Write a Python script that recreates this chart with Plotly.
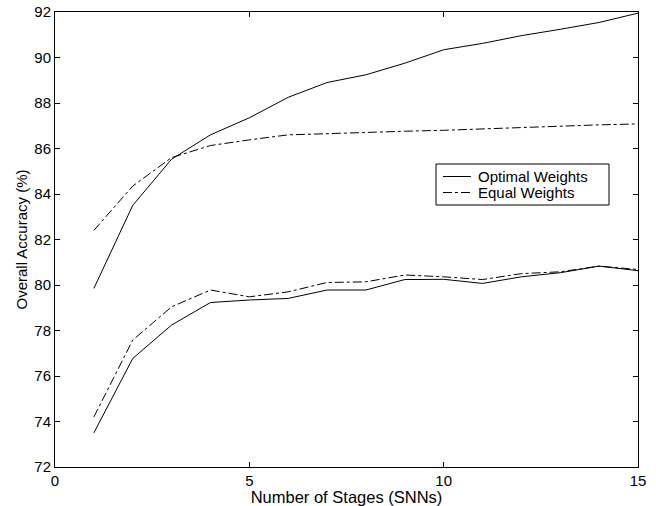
import plotly.graph_objects as go

stages = list(range(1, 16))
optimal_upper = [79.85, 83.5, 85.53, 86.6, 87.35, 88.25, 88.9, 89.24, 89.75, 90.34, 90.62, 90.96, 91.24, 91.54, 91.95]
equal_upper = [82.4, 84.35, 85.6, 86.13, 86.38, 86.6, 86.65, 86.72, 86.76, 86.8, 86.86, 86.94, 87.0, 87.04, 87.08]
optimal_lower = [73.5, 76.77, 78.24, 79.23, 79.34, 79.41, 79.78, 79.78, 80.24, 80.25, 80.07, 80.36, 80.54, 80.83, 80.63]
equal_lower = [74.2, 77.58, 79.04, 79.78, 79.48, 79.7, 80.11, 80.14, 80.44, 80.36, 80.24, 80.5, 80.58, 80.83, 80.68]

x_ticks = [0, 5, 10, 15]
y_ticks = [72, 74, 76, 78, 80, 82, 84, 86, 88, 90, 92]
legend_labels = ["Optimal Weights", "Equal Weights"]

W, H = 656, 506
ML, MR, MT, MB = 55, 18, 12, 39
PW, PH = W - ML - MR, H - MT - MB


def px(xp):
    return (xp - ML) / PW


def py(yp):
    return 1 - (yp - MT) / PH


fig = go.Figure()
fig.add_trace(go.Scatter(x=stages, y=optimal_upper, mode="lines", name=legend_labels[0],
                         line=dict(color="black", width=1)))
fig.add_trace(go.Scatter(x=stages, y=equal_upper, mode="lines", name=legend_labels[1],
                         line=dict(color="black", width=1, dash="dashdot")))
fig.add_trace(go.Scatter(x=stages, y=optimal_lower, mode="lines", name=legend_labels[0],
                         line=dict(color="black", width=1)))
fig.add_trace(go.Scatter(x=stages, y=equal_lower, mode="lines", name=legend_labels[1],
                         line=dict(color="black", width=1, dash="dashdot")))

# manual compact legend (as in the reference)
shapes = [
    dict(type="rect", xref="paper", yref="paper", x0=px(436), x1=px(609), y0=py(205), y1=py(164),
         line=dict(color="black", width=1), fillcolor="white", layer="above"),
    dict(type="line", xref="paper", yref="paper", x0=px(443), x1=px(471), y0=py(176.5), y1=py(176.5),
         line=dict(color="black", width=1)),
    dict(type="line", xref="paper", yref="paper", x0=px(443), x1=px(471), y0=py(192.5), y1=py(192.5),
         line=dict(color="black", width=1, dash="dashdot")),
]
annotations = [
    dict(text=legend_labels[0], xref="paper", yref="paper", x=px(476), y=py(176.5), xanchor="left",
         yanchor="middle", showarrow=False, font=dict(size=15)),
    dict(text=legend_labels[1], xref="paper", yref="paper", x=px(476), y=py(193), xanchor="left",
         yanchor="middle", showarrow=False, font=dict(size=15)),
]

font_family = "Liberation Sans, Arial, sans-serif"
fig.update_layout(
    width=W, height=H,
    margin=dict(l=ML, r=MR, t=MT, b=MB),
    paper_bgcolor="white", plot_bgcolor="white",
    font=dict(family=font_family, size=15, color="black"),
    showlegend=False,
    shapes=shapes,
    annotations=annotations,
)
fig.update_xaxes(range=[0, 15], tickvals=x_ticks, ticks="inside", ticklen=5, tickcolor="black",
                 showline=True, linecolor="black", linewidth=1, mirror="ticks", showgrid=False,
                 zeroline=False, automargin=False,
                 title=dict(text="Number of Stages (SNNs)", font=dict(size=16.5), standoff=4),
                 tickfont=dict(size=15))
fig.update_yaxes(range=[72, 92], tickvals=y_ticks, ticks="inside", ticklen=5, tickcolor="black",
                 showline=True, linecolor="black", linewidth=1, mirror="ticks", showgrid=False,
                 zeroline=False, automargin=False,
                 title=dict(text="Overall Accuracy (%)", font=dict(size=15), standoff=3),
                 tickfont=dict(size=15))

fig.write_html("out.html")
